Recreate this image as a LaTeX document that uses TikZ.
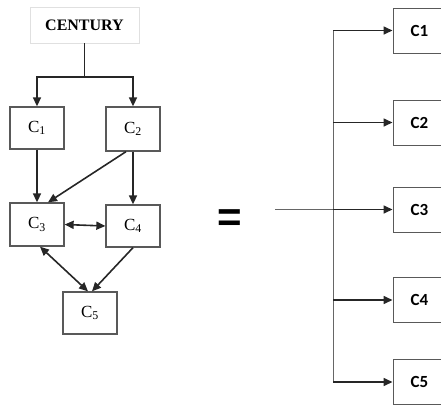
\documentclass[tikz,border=0pt]{standalone}
\usepackage{fontspec}
\setmainfont{Liberation Serif}
\newfontfamily\calfont{Carlito}
\newfontfamily\arialfont{Liberation Sans}
\usetikzlibrary{arrows.meta}
\begin{document}
\begin{tikzpicture}[x=1pt,y=-1pt,
  lbox/.style={draw=black!65,line width=1.3pt,minimum width=54pt,inner sep=0pt,font=\fontsize{17}{19}\selectfont},
  rbox/.style={draw=black!65,line width=1pt,minimum width=53pt,minimum height=45pt,inner sep=0pt,font=\calfont\bfseries\fontsize{17}{19}\selectfont},
  arr/.style={draw=black!85,line width=1.6pt,-{Triangle[length=9pt,width=8pt]}},
  darr/.style={draw=black!85,line width=1.6pt,{Triangle[length=9pt,width=8pt]}-{Triangle[length=9pt,width=8pt]}},
  ln/.style={draw=black!85,line width=1.6pt},
  thin/.style={draw=black!60,line width=1pt}]
\useasboundingbox (0,0) rectangle (441,408);
% left diagram
\node[draw=black!12,line width=0.8pt,minimum width=109pt,minimum height=36pt,inner sep=0pt,font=\bfseries\fontsize{16}{18}\selectfont] (century) at (84.5,25) {CENTURY};
\node[lbox,minimum height=42pt] (c1) at (37,128) {C\textsubscript{1}\hspace{4pt}};
\node[lbox,minimum height=44pt] (c2) at (133,129) {C\textsubscript{2}\hspace{2pt}};
\node[lbox,minimum height=43pt] (c3) at (37,224.5) {C\textsubscript{3}\hspace{4pt}};
\node[lbox,minimum height=42pt] (c4) at (133,226) {C\textsubscript{4}\hspace{2pt}};
\node[lbox,minimum height=42pt] (c5) at (90,313) {C\textsubscript{5}\hspace{3pt}};
\coordinate (split) at (84.5,77);
\draw[ln] (century.south) -- (split);
\draw[arr] (split) -| (c1.north);
\draw[arr] (split) -| (c2.north);
\draw[arr] (c1.south) -- (c3.north);
\draw[arr] (c2.south) -- (c4.north);
\draw[arr] ([xshift=-7pt]c2.south) -- ([xshift=11pt]c3.north);
\draw[darr] (c3.east) -- (c4.west);
\draw[darr] ([xshift=3pt]c3.south) -- ([xshift=-2pt]c5.north);
\draw[arr] (c4.south) -- ([xshift=2pt]c5.north);
% equals sign
\node[font=\arialfont\bfseries\fontsize{42}{42}\selectfont,inner sep=0pt] (eq) at (229.5,221) {=};
% right diagram
\begin{scope}
\clip (0,0) rectangle (441,408);
\node[rbox] (r1) at (419.5,30.5) {C1};
\node[rbox] (r2) at (419.5,122.5) {C2};
\node[rbox] (r3) at (419.5,209.5) {C3};
\node[rbox] (r4) at (419.5,300) {C4};
\node[rbox] (r5) at (419.5,382) {C5};
\end{scope}
\coordinate (bx) at (333,0);
\coordinate (in) at (275,209.5);
\draw[thin] (bx |- r1.west) -- (bx |- r5.west);
\draw[thin] (in) -- (bx |- r3.west);
\foreach \r in {r1,r2,r3,r4,r5} {
  \draw[arr] (bx |- \r.west) -- (\r.west);
}
\end{tikzpicture}
\end{document}
